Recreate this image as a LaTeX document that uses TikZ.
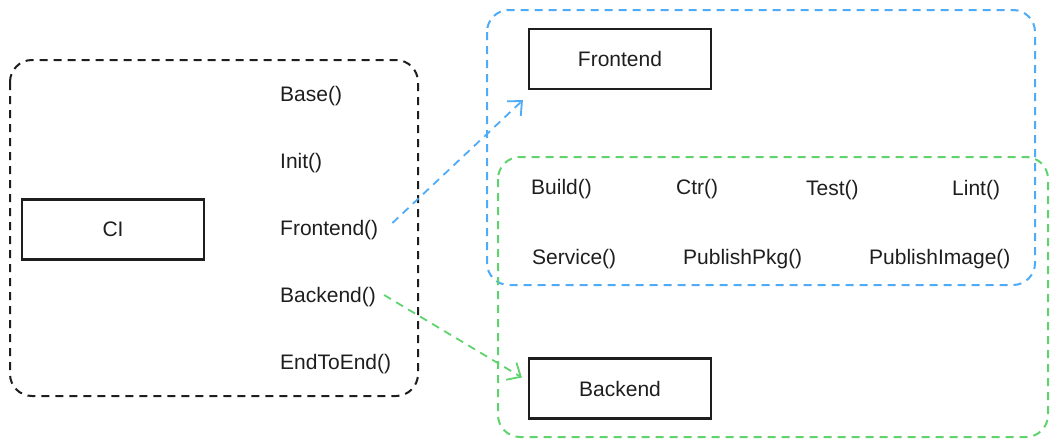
\documentclass[tikz,border=0pt]{standalone}
\usepackage{fontspec}
\setmainfont{Liberation Sans}
\usetikzlibrary{arrows.meta}
\definecolor{inkc}{HTML}{1E1E1E}
\definecolor{bluec}{HTML}{4DABF7}
\definecolor{greenc}{HTML}{5FD36E}
\begin{document}
\begin{tikzpicture}[x=1pt,y=-1pt,
  grp/.style={line width=2pt,dash pattern=on 8pt off 6pt,rounded corners=22pt},
  boxn/.style={draw=inkc,line width=2.2pt,minimum width=182pt,minimum height=60pt,inner sep=0pt,font=\fontsize{21}{24}\selectfont,text=inkc},
  lbl/.style={anchor=west,inner sep=0pt,font=\fontsize{21}{24}\selectfont,text=inkc},
  conn/.style={line width=1.8pt,dash pattern=on 8pt off 6pt,-{Straight Barb[length=11pt,width=20pt,line width=1.8pt]}}]
\useasboundingbox (0,0) rectangle (1059,447);
% groups
\draw[grp,draw=inkc] (10,60) rectangle (418,396);
\draw[grp,draw=bluec] (487,10) rectangle (1035,285);
\draw[grp,draw=greenc] (498,157) rectangle (1048,437);
% boxes
\node[boxn] (ci) at (113,229.5) {CI};
\node[boxn] (fe) at (620,59) {Frontend};
\node[boxn] (be) at (620,388.5) {Backend};
% CI labels
\node[lbl] (base) at (280,96) {Base()};
\node[lbl] (init) at (280,163) {Init()};
\node[lbl] (fel) at (280,230) {Frontend()};
\node[lbl] (bel) at (280,297) {Backend()};
\node[lbl] (e2e) at (280,364) {EndToEnd()};
% shared labels
\node[lbl] (build) at (531,189) {Build()};
\node[lbl] (ctr) at (676,189) {Ctr()};
\node[lbl] (test) at (806,190) {Test()};
\node[lbl] (lint) at (952,190) {Lint()};
\node[lbl] (svc) at (532,259) {Service()};
\node[lbl] (ppkg) at (683,259) {PublishPkg()};
\node[lbl] (pimg) at (869,259) {PublishImage()};
% connectors
\coordinate (feIn) at ([shift={(-5pt,-10pt)}]fe.south west);
\coordinate (beIn) at ([shift={(-6pt,11pt)}]be.west);
\draw[conn,draw=bluec] ([xshift=14pt,yshift=7pt]fel.east) -- (feIn);
\draw[conn,draw=greenc] ([xshift=8pt,yshift=2pt]bel.east) -- (beIn);
\end{tikzpicture}
\end{document}
